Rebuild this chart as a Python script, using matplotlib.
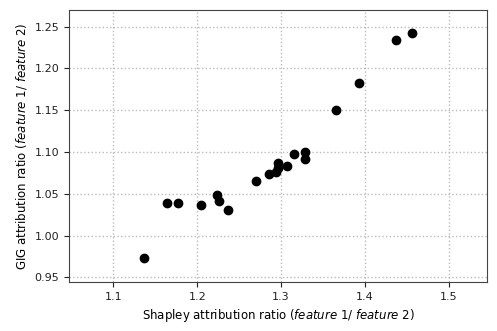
import matplotlib
matplotlib.use('Agg')
import matplotlib.pyplot as plt

# Shapley vs GIG attribution ratios
shapley_ratio = [1.137, 1.164, 1.177, 1.205, 1.223, 1.226, 1.237, 1.270, 1.286,
                 1.294, 1.296, 1.297, 1.307, 1.316, 1.329, 1.329, 1.366, 1.393,
                 1.437, 1.456]
gig_ratio = [0.973, 1.039, 1.039, 1.037, 1.048, 1.041, 1.030, 1.065, 1.074,
             1.076, 1.081, 1.087, 1.083, 1.097, 1.100, 1.092, 1.150, 1.183,
             1.234, 1.242]

fig = plt.figure(figsize=(4.97, 3.31), dpi=100)
ax = fig.add_axes([0.139, 0.148, 0.841, 0.822])

ax.scatter(shapley_ratio, gig_ratio, color='black', s=36, zorder=3)

ax.set_xlim(1.047, 1.546)
ax.set_ylim(0.9444, 1.27)
ax.set_xticks([1.1, 1.2, 1.3, 1.4, 1.5])
ax.set_yticks([0.95, 1.00, 1.05, 1.10, 1.15, 1.20, 1.25])
ax.set_yticklabels(['0.95', '1.00', '1.05', '1.10', '1.15', '1.20', '1.25'])
ax.tick_params(labelsize=8, colors='#222222')
for s in ax.spines.values():
    s.set_color('#444444')

ax.grid(True, linestyle=':', color='#bbbbbb', linewidth=1.0)
ax.set_axisbelow(True)

ax.set_xlabel(r'Shapley attribution ratio ($\it{feature}$ 1/ $\it{feature}$ 2)', fontsize=8.5)
ax.set_ylabel(r'GIG attribution ratio ($\it{feature}$ 1/ $\it{feature}$ 2)', fontsize=8.5)

fig.savefig('out.png', dpi=100)
